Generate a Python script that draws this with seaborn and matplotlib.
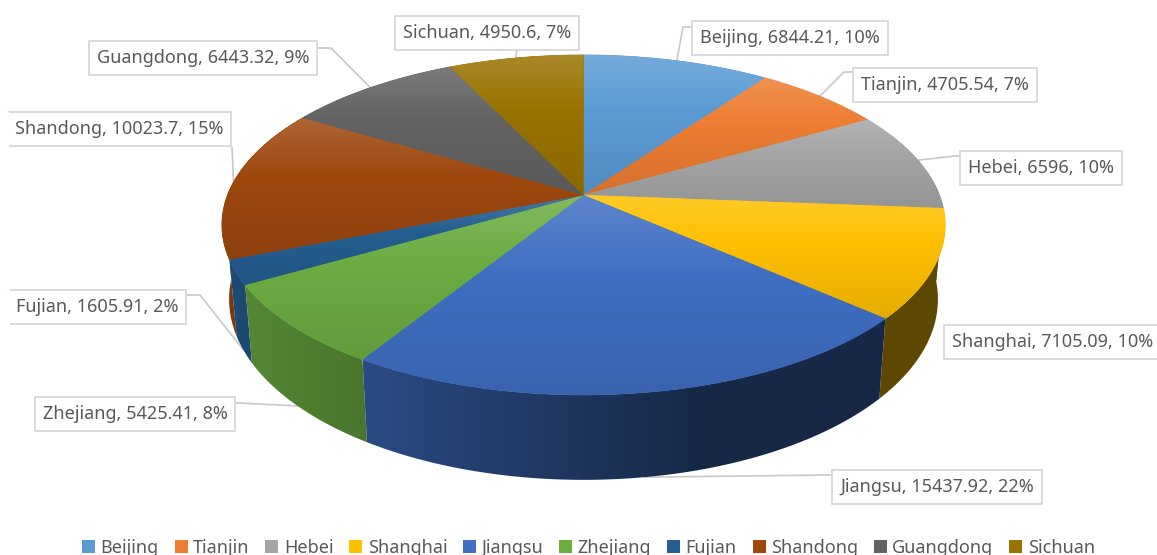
import numpy as np
import seaborn as sns
import matplotlib
matplotlib.use("Agg")
import matplotlib.pyplot as plt
from matplotlib.colors import LinearSegmentedColormap, to_rgb
from matplotlib.patches import Polygon, Patch

provinces = ["Beijing", "Tianjin", "Hebei", "Shanghai", "Jiangsu",
             "Zhejiang", "Fujian", "Shandong", "Guangdong", "Sichuan"]
values = [6844.21, 4705.54, 6596, 7105.09, 15437.92,
          5425.41, 1605.91, 10023.7, 6443.32, 4950.6]
percents = [10, 7, 10, 10, 22, 8, 2, 15, 9, 7]
colors = ["#5b9bd5", "#ed7d31", "#a5a5a5", "#ffc000", "#3f6ec2",
          "#6cad42", "#255e91", "#9e480e", "#636363", "#997300"]

# label box centres (pixels) and leader elbows (layout only)
label_pos = [(790, 38), (945, 85), (1041, 168), (1053, 342), (937, 487),
             (135, 414), (97, 307), (119, 129), (203, 58), (487, 33)]
elbow = [(683, 27), (844, 72), (955, 156), None, (829, 475),
         (240, 403), (200, 295), (232, 147), (331, 48), (517, 48)]
anchor_depth = [0, 0, 0, None, 1, 1, 1, 0, 0, 0]
cut_left = ["Fujian", "Shandong"]

sns.set_theme(style="white")
plt.rcParams["font.family"] = ["Noto Sans", "DejaVu Sans"]
palette = sns.color_palette(colors)
TEXT = "#595959"

W, H = 1157, 555
fig = plt.figure(figsize=(W / 100, H / 100), dpi=100)
ax = fig.add_axes([0, 0, 1, 1])
ax.set_xlim(0, W)
ax.set_ylim(H, 0)
ax.axis("off")

# projection of the unit disc to the screen
HX, HY, A, B, K = 583.5, 195.0, 356.0, 164.7, -0.176
SX, Y0, SY = 0.98, -954.0, 1.063


def rim(theta_deg, depth=0.0):
    t = np.radians(theta_deg)
    X, Y = np.sin(t), -np.cos(t)
    d = 1 + K * Y
    u, v = HX + A * X / d, HY + B * Y / d
    return (HX + (1 - (1 - SX) * depth) * (u - HX),
            Y0 + (1 + (SY - 1) * depth) * (v - Y0))


def mix(c, target, f):
    c = np.array(to_rgb(c))
    return tuple(c + (np.array(target) - c) * f)


total = sum(values)
edges = np.concatenate([[0], np.cumsum(values)]) / total * 360
mids = (edges[:-1] + edges[1:]) / 2

# side wall: one horizontal gradient per slice, far slices first
shade_x = [-1.0, -0.6, 0.0, 0.32, 1.0]
shade_f = [0.80, 0.68, 0.47, 0.37, 0.37]
order = np.argsort(-np.abs(mids - 180))
for i in order:
    lo, hi = max(edges[i], 70), min(edges[i + 1], 300)
    if lo >= hi:
        continue
    th = np.linspace(lo, hi, 120)
    x0, y0 = rim(th)
    x1, y1 = rim(th, 1)
    px = np.concatenate([x0, x1[::-1]])
    py = np.concatenate([y0, y1[::-1]])
    poly = Polygon(np.column_stack([px, py]), closed=True, fc="none", ec="none",
                   transform=ax.transData)
    ax.add_patch(poly)
    xs = np.linspace(px.min(), px.max(), 200)
    fs = np.interp((xs - HX) / 362, shade_x, shade_f)
    rgb = np.array(palette[i])[None, None, :] * fs[None, :, None]
    im = ax.imshow(rgb, aspect="auto", zorder=2, interpolation="bilinear",
                   extent=(px.min(), px.max(), py.max(), py.min()))
    im.set_clip_path(poly)

# top surface with a vertical gradient per slice
for i, c in enumerate(palette):
    th = np.linspace(edges[i], edges[i + 1], 120)
    xs, ys = rim(th)
    px = np.concatenate([[HX], xs])
    py = np.concatenate([[HY], ys])
    poly = Polygon(np.column_stack([px, py]), closed=True, fc=c, ec=c, lw=0.5,
                   transform=ax.transData, zorder=3)
    ax.add_patch(poly)
    cmap = LinearSegmentedColormap.from_list(
        "s", [(0, mix(c, (1, 1, 1), 0.16)), (0.4, c), (1, mix(c, (0, 0, 0), 0.10))])
    grad = np.linspace(0, 1, 256).reshape(-1, 1)
    im = ax.imshow(grad, cmap=cmap, aspect="auto", vmin=0, vmax=1,
                   extent=(px.min(), px.max(), py.max(), py.min()),
                   zorder=4, interpolation="bilinear")
    im.set_clip_path(poly)
ax.set_xlim(0, W)
ax.set_ylim(H, 0)

# leaders and labels
texts = []
for i, name in enumerate(provinces):
    if elbow[i] is not None:
        xa, ya = rim(mids[i], anchor_depth[i])
        ex, ey = elbow[i]
        lx, ly = label_pos[i]
        end_x = ex + 14 if ex < lx else ex - 14
        if i in (7, 9):
            ax.plot([xa, ex], [ya, ey], color="#c8c8c8", lw=1.2, zorder=1)
        else:
            ax.plot([xa, ex, end_x], [ya, ey, ey], color="#c8c8c8", lw=1.2, zorder=1)
    t = ax.text(*label_pos[i], f"{name}, {values[i]}, {percents[i]}%",
                ha="center", va="center", fontsize=13, color=TEXT, zorder=7,
                bbox=dict(boxstyle="square,pad=0.44", fc="white", ec="#d4d4d4", lw=1.2))
    texts.append(t)

# the two left-most boxes have no visible left border in the source
fig.canvas.draw()
renderer = fig.canvas.get_renderer()
inv = ax.transData.inverted()
for t, name in zip(texts, provinces):
    if name in cut_left:
        bb = t.get_bbox_patch().get_window_extent(renderer)
        (x0, y0), (x1, y1) = inv.transform([(bb.x0, bb.y0), (bb.x1, bb.y1)])
        ax.plot([x0, x0], [y0, y1], color="white", lw=2.2, zorder=8)

handles = [Patch(fc=c, ec="none", label=n) for c, n in zip(palette, provinces)]
fig.legend(handles=handles, loc="center", ncol=10, frameon=False,
           bbox_to_anchor=(588.5 / W, 1 - 548 / H), fontsize=13,
           labelcolor=TEXT, handlelength=0.72, handleheight=0.72,
           handletextpad=0.3, columnspacing=0.88, borderpad=0)

fig.savefig("out.png", dpi=100, facecolor="white")
